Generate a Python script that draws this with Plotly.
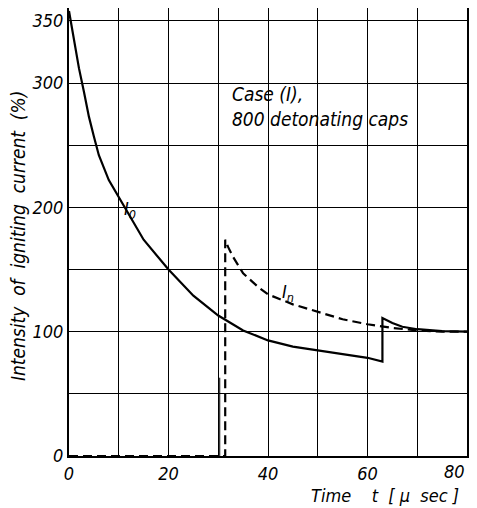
import plotly.graph_objects as go

# I0 curve (solid)
t_i0 = [0, 1, 2, 3, 4, 5, 6, 8, 10, 12, 15, 20, 25, 30, 35, 40, 45, 50, 55, 60, 63,
        63, 65, 67, 70, 75, 80]
v_i0 = [358, 335, 312, 293, 273, 257, 242, 222, 208, 195, 174, 150, 129, 113, 101, 93, 88, 85, 82, 79, 76,
        111, 107, 104, 102, 100.5, 100]

# In curve (dashed)
t_in = [0, 31.4, 31.4, 32, 33, 35, 38, 40, 45, 50, 55, 60, 65, 70, 75, 80]
v_in = [0, 0, 174, 168, 160, 147, 136, 130, 122, 116, 110, 106, 103, 101, 100, 100]

# short solid segment near t=30
t_seg = [30.3, 30.3]
v_seg = [0, 63]

x_ticks = [0, 10, 20, 30, 40, 50, 60, 70, 80]
x_labels = ["0", " ", "20", " ", "40", " ", "60", " ", "80"]
y_ticks = [0, 50, 100, 150, 200, 250, 300, 350]
y_labels = ["0", " ", "100", " ", "200", " ", "300", "350"]

FONT = "DejaVu Sans Condensed, Liberation Sans Narrow, sans-serif"

fig = go.Figure()
fig.add_trace(go.Scatter(x=t_i0, y=v_i0, mode="lines",
                         line=dict(color="black", width=2.2), showlegend=False))
fig.add_trace(go.Scatter(x=t_in, y=v_in, mode="lines",
                         line=dict(color="black", width=2.2, dash="9px,5px"), showlegend=False))
fig.add_trace(go.Scatter(x=t_seg, y=v_seg, mode="lines",
                         line=dict(color="black", width=1), showlegend=False))

# the last x tick label is drawn right-aligned at its tick (as in the reference)
axis_labels = x_labels[:-1] + [" "]

fig.update_layout(
    width=469, height=500,
    margin=dict(l=61, r=10, t=0, b=52),
    paper_bgcolor="white", plot_bgcolor="white",
    font=dict(family=FONT, color="black", size=16),
    xaxis=dict(range=[0, 80], tickvals=x_ticks, ticktext=axis_labels,
               showgrid=True, gridcolor="black", gridwidth=1,
               showline=True, linecolor="black", linewidth=2, mirror=True,
               zeroline=False, ticks="", tickfont=dict(size=18, style="italic"),
               ticklabeloverflow="allow", automargin=False, fixedrange=True),
    yaxis=dict(range=[0, 360.4], tickvals=y_ticks, ticktext=y_labels,
               showgrid=True, gridcolor="black", gridwidth=1,
               showline=True, linecolor="black", linewidth=2, mirror=True,
               zeroline=False, ticks="", tickfont=dict(size=18, style="italic"),
               ticklabeloverflow="allow", automargin=False, fixedrange=True),
    annotations=[
        dict(text="<i>" + x_labels[-1] + "</i>", xref="x", yref="paper",
             x=x_ticks[-1], y=0, yshift=-3, showarrow=False,
             xanchor="right", yanchor="top", font=dict(size=18)),
        dict(text="<i>Intensity  of  igniting  current  (%)</i>", textangle=-90,
             xref="paper", yref="paper", x=-0.128, y=0.491, showarrow=False,
             font=dict(size=19), xanchor="center", yanchor="middle"),
        dict(text="<i>Time    t  [ μ  sec ]</i>", xref="paper", yref="paper",
             x=0.985, y=-0.06, showarrow=False, xanchor="right", yanchor="top",
             font=dict(size=18)),
        dict(text="<i>Case (I),<br>800 detonating caps</i>", xref="x", yref="y",
             x=32.3, y=281, showarrow=False, xanchor="left", yanchor="middle",
             align="left", font=dict(size=19)),
        dict(text="<i>I<sub>0</sub></i>", xref="x", yref="y", x=10.6, y=198,
             showarrow=False, xanchor="left", yanchor="middle", font=dict(size=18)),
        dict(text="<i>I<sub>n</sub></i>", xref="x", yref="y", x=42.4, y=131,
             showarrow=False, xanchor="left", yanchor="middle", font=dict(size=18)),
    ],
)

fig.write_html("out.html")
